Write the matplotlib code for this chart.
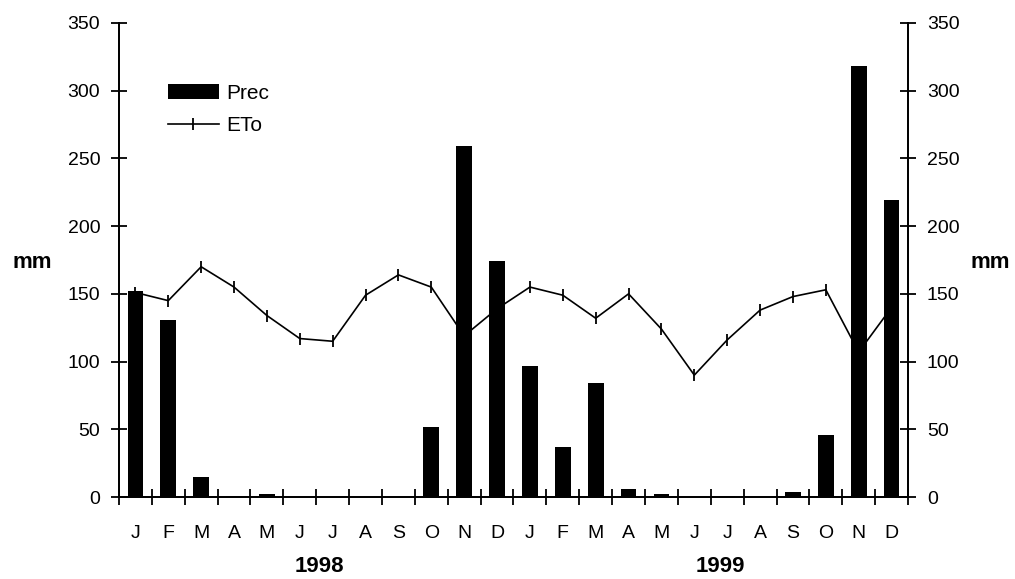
import matplotlib.pyplot as plt
import numpy as np
from matplotlib.lines import Line2D
from matplotlib.patches import Patch

plt.rcParams[ 'font.family' ] = [ 'Liberation Sans', 'DejaVu Sans' ]

months = [ "J", "F", "M", "A", "M", "J", "J", "A", "S", "O", "N", "D" ] * 2
years = [ "1998", "1999" ]

prec = [ 152, 131, 15, 1, 2, 0, 0, 0, 0, 52, 259, 174,
         97, 37, 84, 6, 2, 0, 0.5, 0, 3.5, 46, 318, 219 ]
eto = [ 151, 145, 170, 155, 134, 117, 115, 149, 164, 155, 119, 139,
        155, 149, 132, 150, 124, 90, 116, 138, 148, 153, 107, 140 ]

x = np.arange( len( months ) )

fig = plt.figure( figsize = ( 10.15, 5.79 ), dpi = 100 )
ax = fig.add_axes( [ 0.1172, 0.1416, 0.7774, 0.8187 ] )

ax.bar( x, prec, width = 0.48, color = "black", zorder = 3 )
ax.plot( x, eto, color = "black", lw = 1.2, marker = "|", ms = 8, mew = 1.3, zorder = 2 )

ax.set_xlim( -0.5, len( months ) - 0.5 )
ax.set_ylim( 0, 350 )
ax.set_yticks( range( 0, 351, 50 ) )

ax.set_xticks( x )
ax.set_xticklabels( months )
ax.set_xticks( np.arange( -0.5, len( months ), 1.0 ), minor = True )
ax.tick_params( axis = "x", which = "major", length = 0, pad = 20, labelsize = 14 )
ax.tick_params( axis = "x", which = "minor", direction = "inout", length = 11, width = 1.3 )
ax.tick_params( axis = "y", direction = "inout", length = 11, width = 1.3, pad = 8, labelsize = 14 )

ax2 = ax.twinx()
ax2.set_ylim( 0, 350 )
ax2.set_yticks( range( 0, 351, 50 ) )
ax2.tick_params( axis = "y", direction = "inout", length = 11, width = 1.3, pad = 8, labelsize = 14 )

for a in ( ax, ax2 ):
    a.spines[ "top" ].set_visible( False )
    for s in ( "left", "right", "bottom" ):
        a.spines[ s ].set_linewidth( 1.3 )

fig.text( 32 / 1015, 1 - 262 / 579, "mm", fontsize = 16, fontweight = "bold", ha = "center", va = "center" )
fig.text( 990 / 1015, 1 - 262 / 579, "mm", fontsize = 16, fontweight = "bold", ha = "center", va = "center" )

for i, yr in enumerate( years ):
    ax.text( 5.6 + 12.2 * i, -0.146, yr, transform = ax.get_xaxis_transform(),
             fontsize = 16, fontweight = "bold", ha = "center", va = "center" )

handles = [ Patch( facecolor = "black" ),
            Line2D( [ ], [ ], color = "black", lw = 1.2, marker = "|", ms = 8, mew = 1.3 ) ]
ax.legend( handles, [ "Prec", "ETo" ], loc = "upper left", bbox_to_anchor = ( 0.062, 0.872 ),
           frameon = False, fontsize = 15, borderpad = 0, borderaxespad = 0,
           handlelength = 2.45, handleheight = 0.75, handletextpad = 0.35, labelspacing = 0.65 )

fig.savefig( "out.png", dpi = 100 )
